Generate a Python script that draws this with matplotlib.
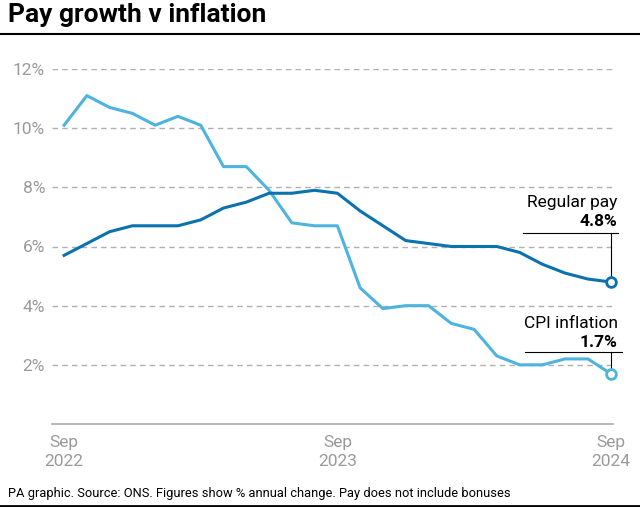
import numpy as np
import matplotlib.pyplot as plt
from matplotlib.lines import Line2D

plt.rcParams['font.family'] = ['Roboto', 'DejaVu Sans']

months = ["Sep\n2022", "", "", "", "", "", "", "", "", "", "", "", "Sep\n2023",
          "", "", "", "", "", "", "", "", "", "", "", "Sep\n2024"]
cpi = [10.1, 11.1, 10.7, 10.5, 10.1, 10.4, 10.1, 8.7, 8.7, 7.9, 6.8, 6.7, 6.7,
       4.6, 3.9, 4.0, 4.0, 3.4, 3.2, 2.3, 2.0, 2.0, 2.2, 2.2, 1.7]
pay = [5.7, 6.1, 6.5, 6.7, 6.7, 6.7, 6.9, 7.3, 7.5, 7.8, 7.8, 7.9, 7.8,
       7.2, 6.7, 6.2, 6.1, 6.0, 6.0, 6.0, 5.8, 5.4, 5.1, 4.9, 4.8]
yticks = [2, 4, 6, 8, 10, 12]

light = "#4db3df"
dark = "#0a72ae"
grey = "#9a9a9a"

W, H = 640, 507
fig = plt.figure(figsize=(6.4, 5.07), dpi=100)
ax = fig.add_axes([52 / W, (H - 424) / H, (613 - 52) / W, (424 - 69) / H])

x = np.arange(len(cpi))
ax.plot(x, cpi, color=light, lw=2.2, clip_on=False, zorder=3)
ax.plot(x, pay, color=dark, lw=2.2, clip_on=False, zorder=3)
ax.plot(x[-1], cpi[-1], 'o', ms=7, mfc='white', mec=light, mew=2, zorder=4, clip_on=False)
ax.plot(x[-1], pay[-1], 'o', ms=7, mfc='white', mec=dark, mew=2, zorder=4, clip_on=False)

ax.set_xlim(-0.53, 24.1)
ax.set_ylim(0, 12)
for t in yticks:
    ax.axhline(t, color="#b0b0b0", lw=1, ls=(0, (4, 3)), zorder=1)
ax.set_yticks(yticks)
ax.set_yticklabels([f"{t}%" for t in yticks], color=grey, fontsize=12.5)
ticks = [i for i, m in enumerate(months) if m]
ax.set_xticks(ticks)
ax.set_xticklabels([months[i] for i in ticks], color=grey, fontsize=12.5, linespacing=1.35)
ax.tick_params(length=0, pad=5)
ax.tick_params(axis='x', pad=8)
for s in ['top', 'right', 'left']:
    ax.spines[s].set_visible(False)
ax.spines['bottom'].set_color("#aaaaaa")
ax.spines['bottom'].set_linewidth(1.2)

# labels for the last values
def label(name, val, ytop, ytxt, yline, xl, xr):
    ax.text(24.3, ytop, name, ha='right', va='center', fontsize=12.5, color='black')
    ax.text(24.3, ytxt, f"{val}%", ha='right', va='center', fontsize=12.5,
            fontweight='bold', color='black')
    ax.plot([xl, xr], [yline, yline], color='black', lw=0.8, clip_on=False)
    ax.plot([24, 24], [yline, val + 0.2], color='black', lw=0.8, clip_on=False)

label("Regular pay", pay[-1], 7.5, 6.83, 6.46, 20.14, 24.31)
label("CPI inflation", cpi[-1], 3.41, 2.74, 2.43, 20.23, 24.48)

fig.text(8 / W, 1 - 15 / H, "Pay growth v inflation", fontsize=19, fontweight='bold',
         va='center', ha='left')
fig.add_artist(Line2D([0, 1], [1 - 34 / H, 1 - 34 / H], color='black', lw=1.5))
fig.text(8 / W, 1 - 494 / H, "PA graphic. Source: ONS. Figures show % annual change. Pay does not include bonuses",
         fontsize=9.3, va='center', ha='left')
fig.add_artist(Line2D([0, 1], [1 - 506 / H, 1 - 506 / H], color='black', lw=2))

fig.savefig("out.png", dpi=100)
